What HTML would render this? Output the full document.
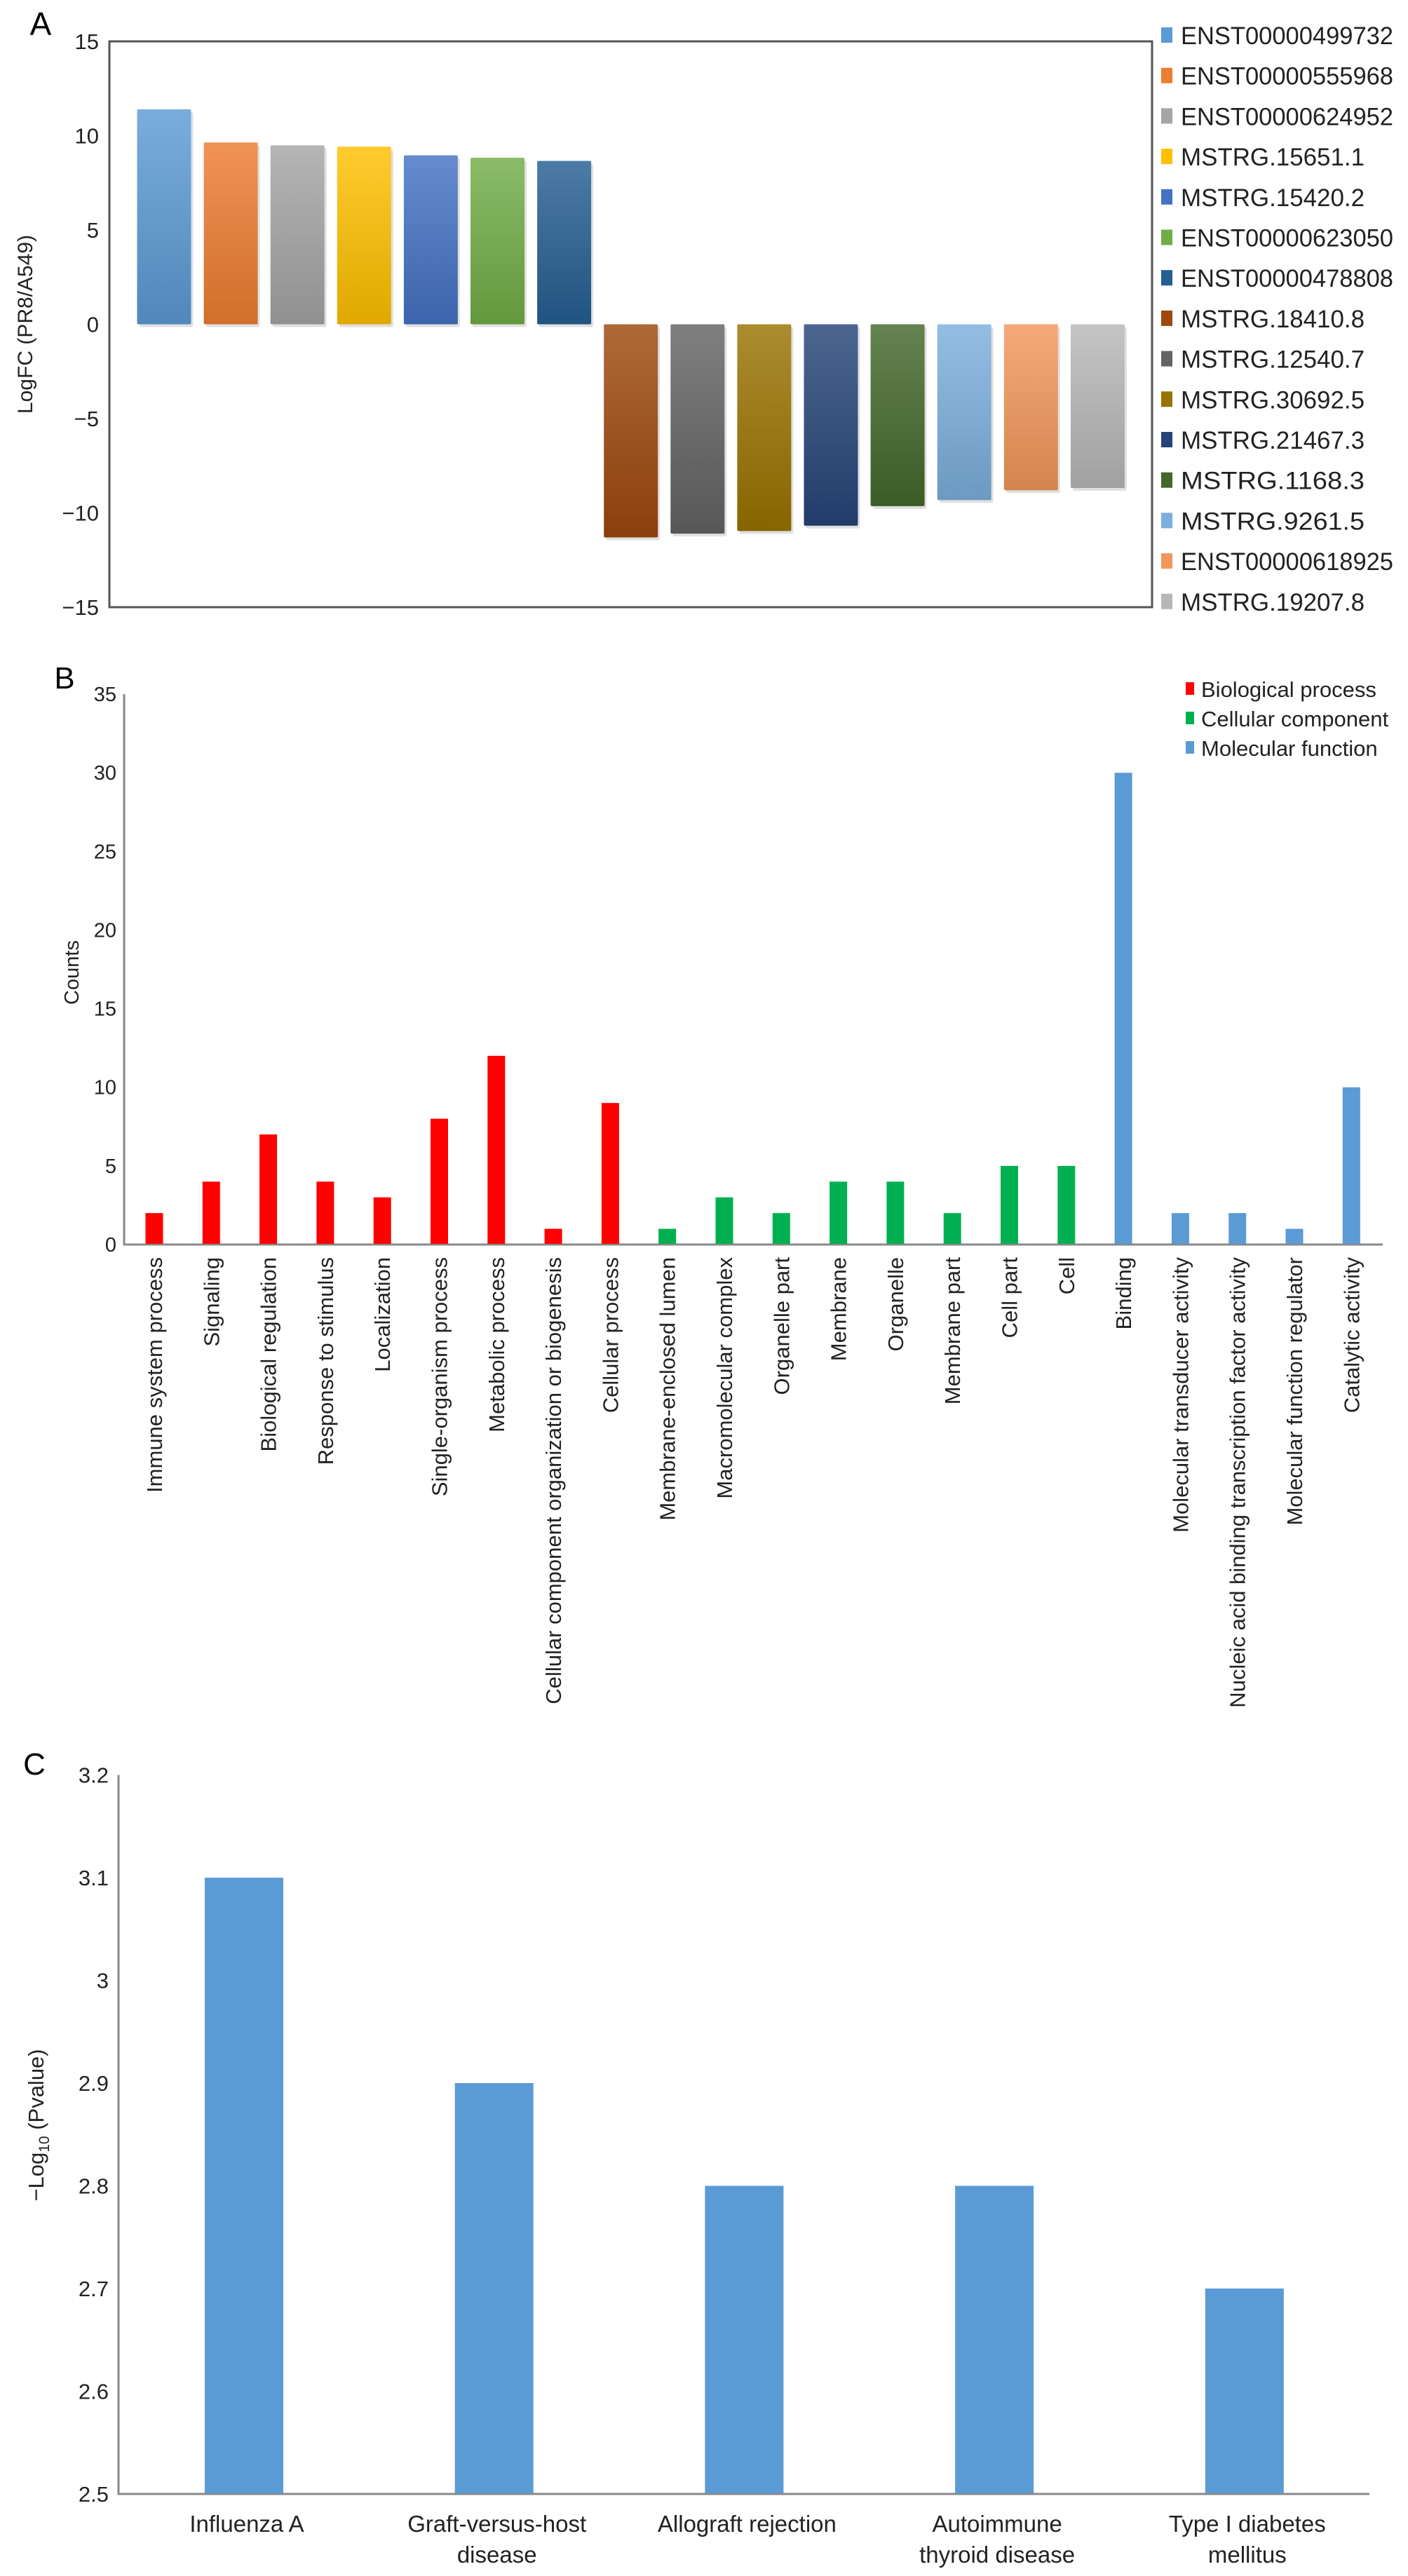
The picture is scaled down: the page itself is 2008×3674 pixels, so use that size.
<!DOCTYPE html>
<html><head><meta charset="utf-8">
<style>
html,body{margin:0;padding:0;background:#fff;}
svg{display:block;font-family:"Liberation Sans",Arial,sans-serif;}
</style></head>
<body>
<svg id="fig" width="2008" height="3674" viewBox="0 0 2008 3674" xmlns="http://www.w3.org/2000/svg">
<defs id="defs"></defs>
<g id="panelA"></g>
<g id="panelB"></g>
<g id="panelC"></g>
</svg>
<script>
// ---------- Panel A data ----------
const aCategories = ["ENST00000499732","ENST00000555968","ENST00000624952","MSTRG.15651.1","MSTRG.15420.2","ENST00000623050","ENST00000478808","MSTRG.18410.8","MSTRG.12540.7","MSTRG.30692.5","MSTRG.21467.3","MSTRG.1168.3","MSTRG.9261.5","ENST00000618925","MSTRG.19207.8"];
const aValues = [11.4,9.64,9.49,9.42,8.96,8.83,8.66,-11.3,-11.1,-10.96,-10.68,-9.64,-9.32,-8.8,-8.68];
const aColors = ["#5b9bd5","#ed7d31","#a5a5a5","#ffc000","#4472c4","#70ad47","#255e91","#9e480e","#636363","#997300","#264478","#43682b","#7cafdd","#f1975a","#b7b7b7"];
const aTicks = [15,10,5,0,-5,-10,-15];
const aTickLabels = ["15","10","5","0","\u22125","\u221210","\u221215"];

// ---------- Panel B data ----------
const bCategories = ["Immune system process","Signaling","Biological regulation","Response to stimulus","Localization","Single-organism process","Metabolic process","Cellular component organization or biogenesis","Cellular process","Membrane-enclosed lumen","Macromolecular complex","Organelle part","Membrane","Organelle","Membrane part","Cell part","Cell","Binding","Molecular transducer activity","Nucleic acid binding transcription factor activity","Molecular function regulator","Catalytic activity"];
const bValues = [2,4,7,4,3,8,12,1,9,1,3,2,4,4,2,5,5,30,2,2,1,10];
const bGroups = [0,0,0,0,0,0,0,0,0,1,1,1,1,1,1,1,1,2,2,2,2,2];
const bGroupNames = ["Biological process","Cellular component","Molecular function"];
const bGroupColors = ["#ff0000","#00b050","#5b9bd5"];
const bTicks = [0,5,10,15,20,25,30,35];

// ---------- Panel C data ----------
const cCategories = [["Influenza A"],["Graft-versus-host","disease"],["Allograft rejection"],["Autoimmune","thyroid disease"],["Type I diabetes","mellitus"]];
const cValues = [3.1,2.9,2.8,2.8,2.7];
const cTicks = [2.5,2.6,2.7,2.8,2.9,3.0,3.1,3.2];
const cTickLabels = ["2.5","2.6","2.7","2.8","2.9","3","3.1","3.2"];

const NS = "http://www.w3.org/2000/svg";
function mk(parent, tag, attrs, text){
  const e = document.createElementNS(NS, tag);
  for (const k in attrs) e.setAttribute(k, attrs[k]);
  if (text !== undefined) e.textContent = text;
  parent.appendChild(e);
  return e;
}
function shade(hex, f){
  let r=parseInt(hex.substr(1,2),16),g=parseInt(hex.substr(3,2),16),b=parseInt(hex.substr(5,2),16);
  if(f>0){r+= (255-r)*f; g+=(255-g)*f; b+=(255-b)*f;} else {r*=1+f; g*=1+f; b*=1+f;}
  return "rgb("+Math.round(r)+","+Math.round(g)+","+Math.round(b)+")";
}

// ===== Panel A =====
(function(){
  const g = document.getElementById("panelA");
  const defs = document.getElementById("defs");
  const L=156, R=1643, T=59, B=866, vmin=-15, vmax=15;
  const y = v => T + (vmax - v) / (vmax - vmin) * (B - T);
  const x0 = 234, step = 95.1, bw = 77;
  const x = i => x0 + i*step;
  let t = mk(g,"text",{x:58,y:50,"font-size":46,"text-anchor":"middle"},"A");
  
  
  const box = mk(g,"rect",{x:L,y:T,width:R-L,height:B-T,fill:"none",stroke:"#555","stroke-width":3});
  
  
  aTicks.forEach((v,i)=>{
    const tl = mk(g,"text",{x:141,y:y(v)+11,"font-size":31,"text-anchor":"end",fill:"#222"},aTickLabels[i]);
    
    
  });
  const yt = mk(g,"text",{x:0,y:0,"font-size":30,"text-anchor":"middle",transform:"translate(46,"+y(0)+") rotate(-90)",fill:"#222"},"LogFC (PR8/A549)");
  
  
  aValues.forEach((v,i)=>{
    const gid = "ga"+i;
    const lg = mk(defs,"linearGradient",{id:gid,x1:0,y1:0,x2:0,y2:1});
    mk(lg,"stop",{offset:"0%","stop-color":shade(aColors[i],0.18)});
    mk(lg,"stop",{offset:"100%","stop-color":shade(aColors[i],-0.12)});
    const top = Math.min(y(v), y(0)), h = Math.abs(y(v)-y(0));
    const sh = mk(g,"rect",{x:x(i)-bw/2+3,y:top+4,width:bw,height:h,fill:"#000",opacity:0.12,rx:3});
    
    
    const r = mk(g,"rect",{x:x(i)-bw/2,y:top,width:bw,height:h,fill:"url(#"+gid+")",rx:2});
    
    
  });
  const ly0 = 50, lstep = 57.7;
  aCategories.forEach((c,i)=>{
    const yy = ly0 + i*lstep;
    const sq = mk(g,"rect",{x:1656,y:yy-11,width:16,height:22,fill:aColors[i]});
    
    
    const w = c.startsWith("ENST") ? 303 : 262;
    const lt = mk(g,"text",{x:1684,y:yy+13,"font-size":35,textLength:w,lengthAdjust:"spacingAndGlyphs",fill:"#222"},c);
    
    
  });
})();

// ===== Panel B =====
(function(){
  const g = document.getElementById("panelB");
  const L=177, R=1972, y0=1775, y35=990;
  const y = v => y0 - v/35*(y0-y35);
  const x0=220, step=81.3, bw=25;
  const x = i => x0 + i*step;
  let t = mk(g,"text",{x:92,y:982,"font-size":44,"text-anchor":"middle"},"B");
  
  
  const ax = mk(g,"path",{d:"M"+L+","+y35+" V"+y0+" H"+R,fill:"none",stroke:"#888","stroke-width":3});
  
  
  bTicks.forEach(v=>{
    const tl = mk(g,"text",{x:166,y:y(v)+10,"font-size":29,"text-anchor":"end",fill:"#222"},String(v));
    
    
  });
  const yt = mk(g,"text",{x:0,y:0,"font-size":29,"text-anchor":"middle",transform:"translate(112,1387) rotate(-90)",fill:"#222"},"Counts");
  
  
  bValues.forEach((v,i)=>{
    const r = mk(g,"rect",{x:x(i)-bw/2,y:y(v),width:bw,height:y0-y(v)-1,fill:bGroupColors[bGroups[i]]});
    
    
    const lt = mk(g,"text",{x:0,y:0,"font-size":31,"text-anchor":"end",transform:"translate("+(x(i)+11)+",1793) rotate(-90)",fill:"#222"},bCategories[i]);
    
    
  });
  bGroupNames.forEach((n,i)=>{
    const yy = 983 + i*42;
    const sq = mk(g,"rect",{x:1691,y:yy-10,width:12,height:18,fill:bGroupColors[i]});
    
    
    const lt = mk(g,"text",{x:1713,y:yy+11,"font-size":31,fill:"#222"},n);
    
    
  });
})();

// ===== Panel C =====
(function(){
  const g = document.getElementById("panelC");
  const L=169, R=1953, yb=3557, pxPer=1465;
  const y = v => yb - (v-2.5)*pxPer;
  const x0=348, step=356.7, bw=112;
  const x = i => x0 + i*step;
  let t = mk(g,"text",{x:49,y:2531,"font-size":44,"text-anchor":"middle"},"C");
  
  
  const ax = mk(g,"path",{d:"M"+L+","+y(3.2)+" V"+yb+" H"+R,fill:"none",stroke:"#888","stroke-width":3});
  
  
  cTicks.forEach((v,i)=>{
    const tl = mk(g,"text",{x:155,y:y(v)+11,"font-size":31,"text-anchor":"end",fill:"#222"},cTickLabels[i]);
    
    
  });
  const yt = mk(g,"text",{x:0,y:0,"font-size":31,"text-anchor":"middle",transform:"translate(62,3031) rotate(-90)",fill:"#222"});
  
  
  mk(yt,"tspan",{},"\u2212Log");
  mk(yt,"tspan",{"font-size":21,dy:8},"10");
  mk(yt,"tspan",{dy:-8}," (Pvalue)");
  cValues.forEach((v,i)=>{
    const r = mk(g,"rect",{x:x(i)-bw/2,y:y(v),width:bw,height:yb-y(v)-1,fill:"#5b9bd5"});
    
    
    cCategories[i].forEach((line,j)=>{
      const lt = mk(g,"text",{x:x(i)+4,y:3611+j*44,"font-size":33,"text-anchor":"middle",fill:"#222"},line);
      
      
    });
  });
})();
</script>
</body></html>
